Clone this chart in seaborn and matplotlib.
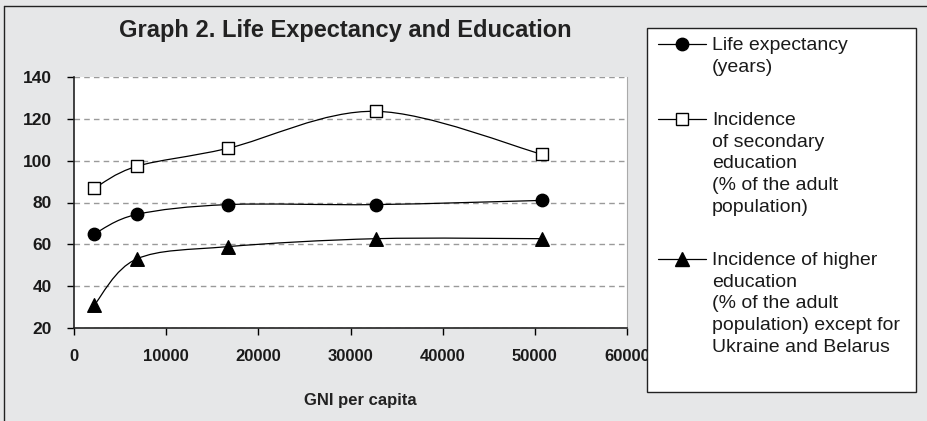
import numpy as np
import pandas as pd
import matplotlib
matplotlib.use("Agg")
import matplotlib.pyplot as plt
import seaborn as sns
from matplotlib.path import Path
from matplotlib.patches import PathPatch, Rectangle
from matplotlib.lines import Line2D

# ---------------- data ----------------
gni_per_capita = [2200, 6800, 16700, 32750, 50800]
life_expectancy = [65.0, 74.3, 79.0, 79.0, 81.0]
secondary_education = [86.8, 97.3, 105.9, 123.6, 103.0]
higher_education = [31.0, 53.0, 58.9, 62.7, 62.7]

series_labels = [
    "Life expectancy\n(years)",
    "Incidence\nof secondary\neducation\n(% of the adult\npopulation)",
    "Incidence of higher\neducation\n(% of the adult\npopulation) except for\nUkraine and Belarus",
]
x_ticks = [0, 10000, 20000, 30000, 40000, 50000, 60000]
y_ticks = [20, 40, 60, 80, 100, 120, 140]
title_text = "Graph 2. Life Expectancy and Education"
x_label = "GNI per capita"

# ---------------- style ----------------
BG = "#e6e7e8"
W, H = 927, 421
sns.set_theme(style="white")
plt.rcParams["font.family"] = ["Liberation Sans", "DejaVu Sans"]

fig = plt.figure(figsize=(W / 100, H / 100), dpi=100, facecolor=BG)

def fx(px):
    return px / W

def fy(py):
    return 1 - py / H

ax = fig.add_axes([fx(74), fy(328), fx(627) - fx(74), fy(77) - fy(328)])
ax.set_facecolor("white")


def smooth_path(xs, ys):
    pts = np.column_stack([xs, ys]).astype(float)
    n = len(pts)
    verts = [pts[0]]
    codes = [Path.MOVETO]
    for i in range(n - 1):
        p0 = pts[i - 1] if i > 0 else pts[i]
        p1 = pts[i]
        p2 = pts[i + 1]
        p3 = pts[i + 2] if i + 2 < n else pts[i + 1]
        c1 = p1 + (p2 - p0) / 6.0
        c2 = p2 - (p3 - p1) / 6.0
        verts += [c1, c2, p2]
        codes += [Path.CURVE4] * 3
    return Path(verts, codes)


series = [
    (life_expectancy, "o", "black", 80),
    (secondary_education, "s", "white", 80),
    (higher_education, "^", "black", 95),
]

for vals, marker, face, size in series:
    ax.add_patch(PathPatch(smooth_path(gni_per_capita, vals), facecolor="none",
                           edgecolor="black", lw=0.9, zorder=2))
    sns.scatterplot(x=gni_per_capita, y=vals, marker=marker, s=size, color=face,
                    edgecolor="black", linewidth=1.0, ax=ax, zorder=3, legend=False)

ax.set_xlim(0, 60000)
ax.set_ylim(20, 140)
ax.set_xticks(x_ticks)
ax.set_yticks(y_ticks)
ax.set_xticklabels([str(t) for t in x_ticks], fontsize=12, fontweight="bold", color="#1a1a1a")
ax.set_yticklabels([str(t) for t in y_ticks], fontsize=12.5, fontweight="bold", color="#1a1a1a")
ax.tick_params(axis="both", direction="out", length=5, width=1, color="black",
               bottom=True, left=True)
ax.tick_params(axis="x", pad=10)
ax.tick_params(axis="y", pad=11)

ax.yaxis.grid(True, color="#9a9a9a", lw=1.0, linestyle=(0, (4, 3)))
ax.set_axisbelow(True)
for s in ["left", "bottom"]:
    ax.spines[s].set_color("#222222")
    ax.spines[s].set_linewidth(1.2)
ax.spines["top"].set_visible(False)
ax.spines["right"].set_color("#aaaaaa")
ax.spines["right"].set_linewidth(0.8)
ax.set_xlabel("")
ax.set_ylabel("")

# title and axis label
fig.text(fx(345), fy(30), title_text, ha="center", va="center", fontsize=17,
         fontweight="bold", color="#222222")
fig.text(fx(360), fy(401), x_label, ha="center", va="center", fontsize=12,
         fontweight="bold", color="#222222")

# figure frame (top and left edges)
fig.add_artist(Line2D([fx(4), fx(4)], [0, fy(6)], color="#222222", lw=1.0))
fig.add_artist(Line2D([fx(4), 1], [fy(6), fy(6)], color="#222222", lw=1.0))

# legend box
fig.add_artist(Rectangle((fx(647), fy(392)), fx(916) - fx(647), fy(28) - fy(392),
                         transform=fig.transFigure, facecolor="white",
                         edgecolor="#222222", lw=1.0, zorder=1))
entry_y = [44, 119, 259]
for (vals, marker, face, size), label, yy in zip(series, series_labels, entry_y):
    fig.add_artist(Line2D([fx(658), fx(706)], [fy(yy), fy(yy)], color="black", lw=0.9, zorder=2))
    fig.add_artist(Line2D([fx(682)], [fy(yy)], marker=marker, markersize=np.sqrt(size),
                          markerfacecolor=face, markeredgecolor="black",
                          markeredgewidth=1.0, linestyle="none", zorder=3))
    fig.text(fx(712), fy(yy - 7), label, ha="left", va="top", fontsize=14,
             color="#1a1a1a", linespacing=1.36, zorder=4)

fig.savefig("out.png", dpi=100, facecolor=BG)
